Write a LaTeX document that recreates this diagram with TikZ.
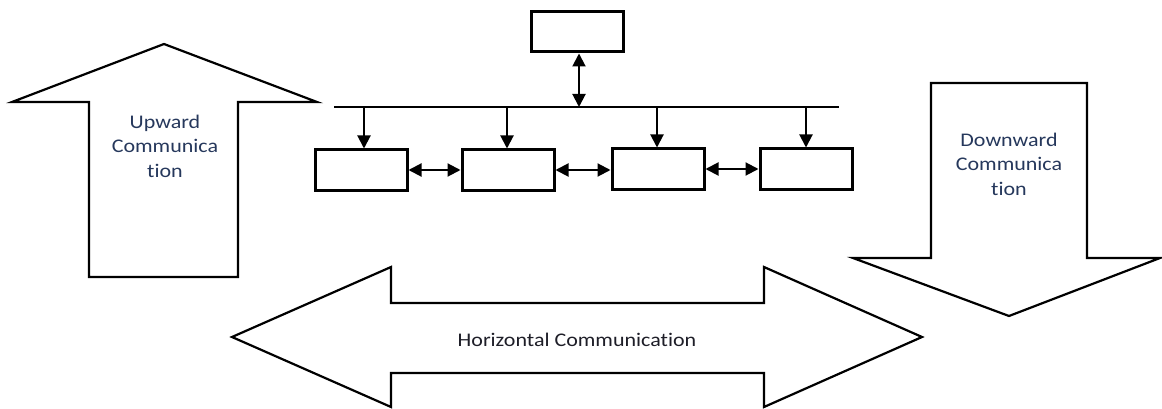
\documentclass[tikz,border=0pt]{standalone}
\usepackage{fontspec}
\setmainfont[FakeStretch=1.14,Ligatures=NoCommon]{Carlito}
\usetikzlibrary{arrows.meta}
\definecolor{lbl}{RGB}{38,56,92}
\definecolor{hlbl}{RGB}{30,30,40}
\tikzset{
  bigarrow/.style={draw=black, line width=2.2pt, fill=white, line join=miter},
  unitbox/.style={draw=black, line width=3pt, minimum width=92pt, minimum height=40pt, inner sep=0pt},
  conn/.style={line width=2pt, -{Triangle[length=13pt,width=13pt]}},
  dconn/.style={line width=2pt, {Triangle[length=13pt,width=13pt]}-{Triangle[length=13pt,width=13pt]}},
  lab/.style={align=center, text=lbl, font=\fontsize{19.3}{24.5}\selectfont},
}
\begin{document}
\begin{tikzpicture}[x=1pt,y=-1pt]
\useasboundingbox (0,0) rectangle (1162,409);
% Upward arrow
\draw[bigarrow] (164,44) -- (317,102) -- (238,102) -- (238,277) -- (89,277) -- (89,102) -- (12,102) -- cycle;
\node[lab] (up) at (165,146) {Upward\\Communica\\tion};
% Downward arrow
\draw[bigarrow] (931,83) -- (1087,83) -- (1087,258) -- (1160,258) -- (1009,316) -- (853,258) -- (931,258) -- cycle;
\node[lab] (down) at (1009,164) {Downward\\Communica\\tion};
% Horizontal double arrow
\draw[bigarrow] (232,337) -- (391,267) -- (391,303) -- (764,303) -- (764,267) -- (922,337) -- (764,407) -- (764,373) -- (391,373) -- (391,407) -- cycle;
\node[lab, text=hlbl] (horiz) at (577,340) {Horizontal Communication};
% Top box
\node[unitbox] (top) at (577,32) {};
% Bus
\coordinate (busL) at (334,107);
\coordinate (busR) at (839,107);
\draw[line width=2pt] (busL) -- (busR);
\coordinate (busT) at (579,107);
\draw[dconn] (top.south -| busT) -- (busT);
% Lower boxes
\node[unitbox] (b1) at (361,170) {};
\node[unitbox] (b2) at (508,170) {};
\node[unitbox] (b3) at (658,169) {};
\node[unitbox] (b4) at (806,169) {};
\foreach \b/\x in {b1/364,b2/507,b3/657,b4/806}{
  \coordinate (t\b) at (\x,107);
  \draw[conn] (t\b) -- (t\b |- \b.north);
}
\draw[dconn] (b1.east) -- (b1.east -| b2.west);
\draw[dconn] (b2.east) -- (b2.east -| b3.west);
\draw[dconn] (b3.east) -- (b3.east -| b4.west);
\end{tikzpicture}
\end{document}
